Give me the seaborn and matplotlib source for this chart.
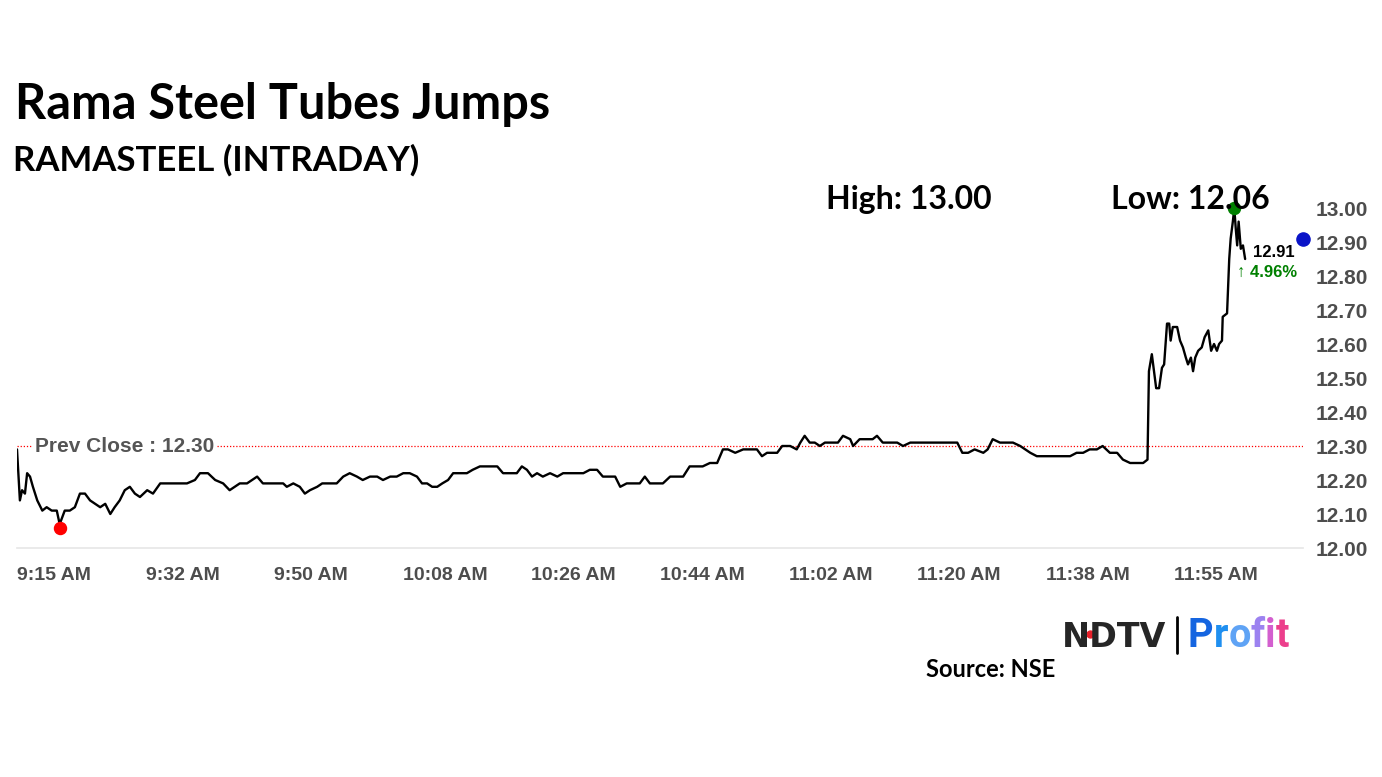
import matplotlib
matplotlib.use("Agg")
import matplotlib.pyplot as plt
import seaborn as sns
import pandas as pd

# minutes after 9:15 AM and last traded price
minutes = [
    0.0, 0.4, 0.7, 1.1, 1.4, 1.8, 2.2, 2.8, 3.5, 4.1, 4.8, 5.5, 5.9, 6.6, 7.3, 8.0, 8.7, 9.4, 10.1, 10.8,
    11.5, 12.2, 12.9, 13.5, 14.2, 14.9, 15.6, 16.3, 17.0, 18.0, 18.8, 19.8, 20.7, 22.1, 23.5, 24.6, 25.3, 26.4,
    27.4, 28.5, 29.4, 30.8, 31.8, 33.2,
    34.0, 35.0, 35.9, 36.8, 37.3, 38.2, 39.1, 39.8, 40.5, 41.5, 42.2, 43.3, 44.2, 45.1, 46.0, 47.0, 47.8, 48.8,
    49.8, 50.6, 51.6, 52.5, 53.4, 54.3, 55.3, 56.0, 56.7, 57.4, 58.1, 58.8, 59.6, 60.3, 61.2, 62.2, 63.0, 64.0, 65.4,
    66.4, 67.2, 68.2, 69.1, 69.8, 70.5, 71.2, 71.9, 72.7, 73.7, 74.7, 75.5, 76.5, 77.4, 78.3, 79.2, 80.2, 81.0,
    82.0, 82.7, 83.4, 84.3, 85.2, 86.1, 86.8, 87.5, 88.5, 89.3, 90.3, 91.2, 92.1, 93.0, 94.0, 94.8, 95.8, 96.8,
    97.6, 98.3, 99.3,
    100.4, 101.3, 102.3, 103.0, 103.7, 104.4, 105.1, 105.8, 106.9, 107.8, 108.3, 108.9, 109.6, 110.3, 111.0,
    111.7, 112.7, 113.5, 114.2, 115.2, 115.6, 116.5, 117.5, 118.3, 118.9, 119.7, 120.7, 121.7, 122.5, 123.5,
    124.4, 126.2, 128.0, 129.0, 130.0, 130.7, 131.5, 132.4,
    133.6, 134.2, 134.9, 135.9, 137.7, 138.7, 139.4, 140.1, 141.0, 141.9, 142.8, 143.8, 144.6, 145.6, 146.5,
    147.4, 148.3, 149.3, 150.1, 151.1, 152.1, 152.9, 153.9, 154.9, 155.7, 156.3,
    156.5, 156.9, 157.2, 157.5, 157.9, 158.3, 158.6, 159.0, 159.3, 159.5, 159.8, 160.4, 160.8, 161.2, 161.6,
    161.9, 162.3, 162.6, 162.9, 163.3, 163.8, 164.2, 164.7, 165.1, 165.5, 165.9, 166.2, 166.6, 166.7, 167.3,
    167.6, 167.8, 168.1, 168.3, 168.5, 168.7, 168.9, 169.2, 169.5, 169.8,
]
prices = [
    12.29, 12.14, 12.17, 12.16, 12.22, 12.21, 12.18, 12.14, 12.11, 12.12, 12.11, 12.11, 12.07, 12.11, 12.11,
    12.12, 12.16, 12.16, 12.14, 12.13, 12.12, 12.13, 12.10, 12.12, 12.14, 12.17, 12.18, 12.16, 12.15, 12.17,
    12.16, 12.19, 12.19, 12.19, 12.19, 12.20, 12.22, 12.22, 12.20, 12.19, 12.17, 12.19, 12.19, 12.21,
    12.19, 12.19, 12.19, 12.19, 12.18, 12.19, 12.18, 12.16, 12.17, 12.18, 12.19, 12.19, 12.19, 12.21, 12.22,
    12.21, 12.20, 12.21, 12.21, 12.20, 12.21, 12.21, 12.22, 12.22, 12.21, 12.19, 12.19, 12.18, 12.18, 12.19,
    12.20, 12.22, 12.22, 12.22, 12.23, 12.24, 12.24,
    12.24, 12.22, 12.22, 12.22, 12.24, 12.23, 12.21, 12.22, 12.21, 12.22, 12.21, 12.22, 12.22, 12.22, 12.22,
    12.23, 12.23, 12.21, 12.21, 12.21, 12.18, 12.19, 12.19, 12.19, 12.21, 12.19, 12.19, 12.19, 12.21, 12.21,
    12.21, 12.24, 12.24, 12.24, 12.25, 12.25, 12.29, 12.29, 12.28,
    12.29, 12.29, 12.29, 12.27, 12.28, 12.28, 12.28, 12.30, 12.30, 12.29, 12.31, 12.33, 12.31, 12.31, 12.30,
    12.31, 12.31, 12.31, 12.33, 12.32, 12.30, 12.32, 12.32, 12.32, 12.33, 12.31, 12.31, 12.31, 12.30, 12.31,
    12.31, 12.31, 12.31, 12.31, 12.31, 12.28, 12.28, 12.29,
    12.28, 12.29, 12.32, 12.31, 12.31, 12.30, 12.29, 12.28, 12.27, 12.27, 12.27, 12.27, 12.27, 12.27, 12.28,
    12.28, 12.29, 12.29, 12.30, 12.28, 12.28, 12.26, 12.25, 12.25, 12.25, 12.26,
    12.52, 12.57, 12.52, 12.47, 12.47, 12.53, 12.54, 12.66, 12.66, 12.61, 12.65, 12.65, 12.61, 12.59, 12.56,
    12.54, 12.56, 12.52, 12.56, 12.58, 12.59, 12.62, 12.64, 12.58, 12.60, 12.58, 12.60, 12.61, 12.68, 12.69,
    12.85, 12.91, 12.96, 13.00, 12.94, 12.89, 12.96, 12.88, 12.89, 12.85,
]

time_labels = ["9:15 AM", "9:32 AM", "9:50 AM", "10:08 AM", "10:26 AM", "10:44 AM",
               "11:02 AM", "11:20 AM", "11:38 AM", "11:55 AM", ""]
price_ticks = [12.00, 12.10, 12.20, 12.30, 12.40, 12.50, 12.60, 12.70, 12.80, 12.90, 13.00]

prev_close = 12.30
day_high = 13.00
high_minute = 168.3
day_low = 12.06
low_minute = 5.9
last_price = 12.91
change_pct = 4.96
session_end = 177.8

df = pd.DataFrame({"minute": minutes, "price": prices})

sns.set_style("white")
plt.rcParams["font.family"] = ["Liberation Sans", "DejaVu Sans"]

W, H = 1382, 777
fig = plt.figure(figsize=(W / 100, H / 100), dpi=100)
ax = fig.add_axes([17 / W, 1 - 548 / H, 1286 / W, 340 / H])

sns.lineplot(data=df, x="minute", y="price", ax=ax, color="black", linewidth=1.7)

ax.axhline(prev_close, color="red", linestyle=(0, (1, 1.5)), linewidth=0.9, zorder=1)
ax.text(2.5, prev_close, "Prev Close : 12.30", color="#555555", fontsize=15, fontweight="bold",
        ha="left", va="center", zorder=2,
        bbox=dict(facecolor="white", edgecolor="none", pad=1.5))

ax.scatter([low_minute], [day_low], s=75, color="red", zorder=5, clip_on=False)
ax.scatter([high_minute], [day_high], s=75, color="green", zorder=5, clip_on=False)
ax.scatter([session_end], [last_price], s=90, color="#0a14c8", zorder=5, clip_on=False)

ax.text(170.9, last_price - 0.04, f"{last_price:.2f}", fontsize=12, fontweight="bold",
        color="black", ha="left", va="center")
ax.text(168.7, last_price - 0.1, f"\u2191 {change_pct:.2f}%", fontsize=12, fontweight="bold",
        color="green", ha="left", va="center")

ax.set_xlim(0, session_end)
ax.set_ylim(12.0, 13.0)
ticks_x = [session_end * i / 10 for i in range(11)]
ax.set_xticks(ticks_x)
ax.set_xticklabels(time_labels, ha="left")
ax.set_yticks(price_ticks)
ax.set_yticklabels([f"{v:.2f}" for v in price_ticks])
ax.yaxis.tick_right()
ax.tick_params(axis="y", length=0, pad=9, labelsize=15, labelcolor="#4d4d4d")
ax.tick_params(axis="x", length=6, width=1, color="#d9d9d9", pad=8, labelsize=14,
               labelcolor="#4d4d4d")
for lab in ax.get_xticklabels() + ax.get_yticklabels():
    lab.set_fontweight("bold")
ax.set_xlabel("")
ax.set_ylabel("")
for side in ["top", "left", "right"]:
    ax.spines[side].set_visible(False)
ax.spines["bottom"].set_color("#e6e6e6")
ax.spines["bottom"].set_linewidth(1.2)

head_font = ["Lato", "DejaVu Sans"]
fig.text(15 / W, 1 - 119 / H, "Rama Steel Tubes Jumps", fontsize=35, fontweight="bold",
         family=head_font, color="black", va="baseline")
fig.text(13 / W, 1 - 171 / H, "RAMASTEEL (INTRADAY)", fontsize=25, fontweight="bold",
         family=head_font, color="black", va="baseline")
fig.text(826 / W, 1 - 209 / H, f"High: {day_high:.2f}", fontsize=23, fontweight="bold",
         family=head_font, color="black", va="baseline")
fig.text(1111 / W, 1 - 209 / H, f"Low: {day_low:.2f}", fontsize=23, fontweight="bold",
         family=head_font, color="black", va="baseline")
fig.text(926 / W, 1 - 677 / H, "Source: NSE", fontsize=17, fontweight="bold",
         family=head_font, color="black", va="baseline")

# NDTV | Profit logo
fig.text(1062 / W, 1 - 647 / H, "NDTV", fontsize=24, fontweight="heavy",
         family=["DejaVu Sans"], va="baseline")
fig.add_artist(plt.Line2D([1090 / W], [1 - 634 / H], marker="o", markersize=5,
                          color="#e8202a", transform=fig.transFigure))
fig.add_artist(plt.Line2D([1177 / W, 1177 / W], [1 - 617 / H, 1 - 653 / H], color="black",
                          linewidth=2, transform=fig.transFigure))
profit_colors = ["#1565e0", "#1f8ff0", "#5fa3f5", "#9c82f0", "#d35fcf", "#ec3f8c"]
prev = fig.text(1188 / W, 1 - 647 / H, "P", fontsize=28.5, fontweight="bold",
                family=["Roboto", "DejaVu Sans"], color=profit_colors[0], va="baseline")
for ch, c in zip("rofit", profit_colors[1:]):
    prev = ax.annotate(ch, xy=(1, 0), xycoords=prev, va="bottom", ha="left", fontsize=28.5,
                       fontweight="bold", family=["Roboto", "DejaVu Sans"], color=c,
                       annotation_clip=False)

fig.savefig("out.png", dpi=100)
